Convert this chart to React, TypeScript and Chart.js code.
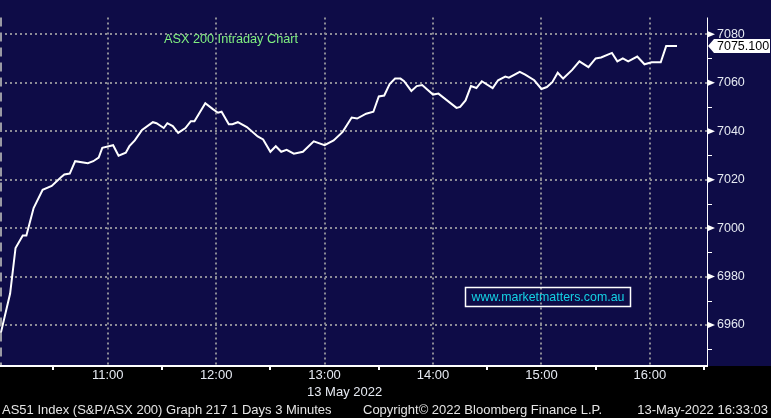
import React, { useEffect, useRef } from "react";
import { Chart, registerables } from "chart.js";

Chart.register(...registerables);

// ---- data ----
const times = [
  "10:00", "10:06", "10:09", "10:13", "10:15", "10:19", "10:24", "10:29", "10:34", "10:36",
  "10:39", "10:42", "10:49", "10:52", "10:55", "10:57", "11:03", "11:06", "11:10", "11:12",
  "11:15", "11:19", "11:25", "11:27", "11:31", "11:33", "11:36", "11:39", "11:43", "11:46",
  "11:48", "11:54", "11:58", "12:01", "12:03", "12:07", "12:09", "12:12", "12:17", "12:23",
  "12:26", "12:30", "12:33", "12:36", "12:39", "12:43", "12:48", "12:54", "13:00", "13:05",
  "13:10", "13:15", "13:18", "13:23", "13:27", "13:30", "13:33", "13:36", "13:39", "13:42",
  "13:44", "13:48", "13:51", "13:54", "14:00", "14:03", "14:13", "14:15", "14:18", "14:21",
  "14:24", "14:27", "14:33", "14:36", "14:40", "14:42", "14:48", "14:51", "14:56", "15:00",
  "15:03", "15:06", "15:09", "15:12", "15:17", "15:21", "15:26", "15:30", "15:33", "15:39",
  "15:42", "15:45", "15:48", "15:53", "15:57", "16:01", "16:06", "16:09", "16:15",
];

const values = [
  6954, 6973.0, 6991.8, 6996.9, 6996.9, 7008.3, 7015.8, 7017.4, 7020.9, 7022.1,
  7022.5, 7027.6, 7026.8, 7027.6, 7029.1, 7033.1, 7034.2, 7029.9, 7031.1, 7033.8,
  7036.2, 7040.5, 7043.7, 7043.3, 7041.3, 7043.3, 7042.1, 7039.3, 7041.3, 7044.1,
  7044.1, 7051.5, 7049.2, 7047.6, 7048.0, 7042.9, 7042.9, 7043.7, 7041.7, 7037.8,
  7036.6, 7031.5, 7033.8, 7031.5, 7032.3, 7030.7, 7031.5, 7035.8, 7034.2, 7036.2,
  7039.7, 7045.6, 7045.2, 7047.2, 7048.0, 7054.3, 7054.7, 7059.4, 7061.7, 7061.7,
  7060.6, 7056.6, 7058.6, 7059.0, 7055.1, 7055.5, 7049.6, 7050.0, 7052.7, 7058.6,
  7057.8, 7060.6, 7057.8, 7061.0, 7062.5, 7062.1, 7064.5, 7063.3, 7061.0, 7057.4,
  7058.2, 7060.2, 7064.1, 7061.7, 7065.3, 7068.8, 7066.4, 7070.0, 7070.4, 7072.3,
  7068.8, 7070.0, 7068.8, 7070.8, 7067.6, 7068.4, 7068.4, 7075.1, 7075.1,
];

const yTicks = [6960, 6980, 7000, 7020, 7040, 7060, 7080];
const yMinorTicks = [6950, 6970, 6990, 7010, 7030, 7050, 7070];
const xTickLabels = ["11:00", "12:00", "13:00", "14:00", "15:00", "16:00"];
const xMinorTicks = ["10:30", "11:30", "12:30", "13:30", "14:30", "15:30", "16:30"];
const lastPrice = 7075.1;
const lastPriceLabel = "7075.100";

const titleText = "ASX 200 Intraday Chart";
const watermarkText = "www.marketmatters.com.au";
const dateLabel = "13 May 2022";
const footerLeft = "AS51 Index (S&P/ASX 200) Graph 217 1 Days 3 Minutes";
const footerMid = "Copyright\u00A9 2022 Bloomberg Finance L.P.";
const footerRight = "13-May-2022 16:33:03";

const Y_MIN = 6943.1;
const Y_MAX = 7086.9;

// ---- helpers ----
const toMin = (t: string) => {
  const [h, m] = t.split(":").map(Number);
  return (h - 10) * 60 + m;
};
const fmt = (v: number) => {
  const h = 10 + Math.floor(v / 60);
  const m = Math.round(v % 60);
  return `${h}:${String(m).padStart(2, "0")}`;
};
const X_MIN = toMin("10:00") + 0.4;
const X_MAX = toMin("16:31") + 0.6;

const FONT = "'Liberation Sans', Arial, sans-serif";
const NAVY = "#0e0c47";
const GRID = "#8c8c96";
const LABEL = "#e6eaf2";

const bgPlugin = {
  id: "bg",
  beforeDraw(chart: any) {
    const { ctx, width, height, chartArea } = chart;
    ctx.save();
    ctx.fillStyle = "#000000";
    ctx.fillRect(0, 0, width, height);
    ctx.fillStyle = NAVY;
    ctx.fillRect(0, 0, width, chartArea.bottom);
    ctx.restore();
  },
};

const overlayPlugin = {
  id: "overlay",
  afterDraw(chart: any) {
    const { ctx, chartArea, width } = chart;
    const xs = chart.scales.x;
    const ys = chart.scales.y;
    const { left, right, top, bottom } = chartArea;
    ctx.save();

    // left dashed edge
    ctx.strokeStyle = "#9a9aa4";
    ctx.lineWidth = 2;
    ctx.setLineDash([9, 6]);
    ctx.beginPath();
    ctx.moveTo(left + 1, top);
    ctx.lineTo(left + 1, bottom);
    ctx.stroke();
    ctx.setLineDash([]);

    // axis lines
    ctx.fillStyle = "#ffffff";
    ctx.fillRect(left, bottom - 1, right - left + 1, 2);
    ctx.fillRect(right, top, 1, bottom - top + 1);

    // x minor ticks
    xMinorTicks.forEach((t) => {
      const x = Math.round(xs.getPixelForValue(toMin(t)));
      if (x < right) ctx.fillRect(x - 1, bottom, 2, 4);
    });

    // y minor ticks
    yMinorTicks.forEach((v) => {
      const y = Math.round(ys.getPixelForValue(v));
      if (y > top && y < bottom) ctx.fillRect(right + 1, y, 4, 1);
    });

    // y major tick triangles
    yTicks.forEach((v) => {
      const y = ys.getPixelForValue(v);
      ctx.beginPath();
      ctx.moveTo(right + 1, y - 3);
      ctx.lineTo(right + 8, y);
      ctx.lineTo(right + 1, y + 3);
      ctx.closePath();
      ctx.fill();
    });

    // last price tag
    const py = ys.getPixelForValue(lastPrice);
    ctx.fillStyle = "#ffffff";
    ctx.beginPath();
    ctx.moveTo(right + 1, py);
    ctx.lineTo(right + 7, py - 7);
    ctx.lineTo(width - 1, py - 7);
    ctx.lineTo(width - 1, py + 7);
    ctx.lineTo(right + 7, py + 7);
    ctx.closePath();
    ctx.fill();
    ctx.fillStyle = "#000000";
    ctx.font = `12.5px ${FONT}`;
    ctx.textAlign = "left";
    ctx.textBaseline = "middle";
    ctx.fillText(lastPriceLabel, right + 10, py + 0.5);

    // title
    ctx.fillStyle = "#80f080";
    ctx.font = `12.7px ${FONT}`;
    ctx.fillText(titleText, 164, 39.5);

    // watermark
    ctx.strokeStyle = "#ffffff";
    ctx.lineWidth = 1.5;
    ctx.strokeRect(465.5, 287.5, 165, 19);
    ctx.fillStyle = "#14d2e4";
    ctx.font = `12.4px ${FONT}`;
    ctx.textAlign = "center";
    ctx.fillText(watermarkText, 548, 297.5);

    // date label
    ctx.fillStyle = LABEL;
    ctx.font = `13px ${FONT}`;
    ctx.textAlign = "left";
    ctx.fillText(dateLabel, 307, 392.5);

    // footer
    ctx.fillStyle = "#e4e4e4";
    ctx.font = `13px ${FONT}`;
    ctx.textAlign = "left";
    ctx.fillText(footerLeft, 2, 410);
    ctx.fillText(footerMid, 363, 410);
    ctx.textAlign = "right";
    ctx.fillText(footerRight, 768, 410);

    ctx.restore();
  },
};

export default function App() {
  const ref = useRef<HTMLCanvasElement | null>(null);

  useEffect(() => {
    document.body.style.margin = "0";
    document.body.style.background = "#000";
    const canvas = ref.current;
    if (!canvas) return;
    const chart = new Chart(canvas, {
      type: "line",
      data: {
        datasets: [
          {
            data: times.map((t, i) => ({ x: toMin(t), y: values[i] })),
            borderColor: "#ffffff",
            borderWidth: 2,
            pointRadius: 0,
            tension: 0,
            fill: false,
          },
        ],
      },
      options: {
        animation: false,
        responsive: false,
        maintainAspectRatio: false,
        events: [],
        layout: { padding: 0, autoPadding: false },
        plugins: { legend: { display: false }, tooltip: { enabled: false } },
        scales: {
          x: {
            type: "linear",
            position: "bottom",
            min: X_MIN,
            max: X_MAX,
            afterBuildTicks: (s: any) => {
              s.ticks = xTickLabels.map((l) => ({ value: toMin(l) }));
            },
            afterFit: (s: any) => {
              s.height = 52;
            },
            grid: { color: GRID, lineWidth: 2, drawTicks: false },
            border: { display: false, dash: [2, 3] },
            ticks: {
              color: LABEL,
              font: { family: FONT, size: 13 },
              padding: 2,
              maxRotation: 0,
              autoSkip: false,
              callback: (v: any) => fmt(Number(v)),
            },
          },
          y: {
            type: "linear",
            position: "right",
            min: Y_MIN,
            max: Y_MAX,
            afterBuildTicks: (s: any) => {
              s.ticks = yTicks.map((v) => ({ value: v }));
            },
            afterFit: (s: any) => {
              s.width = 64;
            },
            grid: { color: GRID, lineWidth: 2, drawTicks: false },
            border: { display: false, dash: [2, 3] },
            ticks: {
              color: LABEL,
              font: { family: FONT, size: 12.5 },
              padding: 10,
              autoSkip: false,
              callback: (v: any) => String(v),
            },
          },
        },
      },
      plugins: [bgPlugin, overlayPlugin],
    } as any);
    return () => chart.destroy();
  }, []);

  return (
    <div style={{ width: 771, height: 418, background: "#000" }}>
      <canvas ref={ref} width={771} height={418} style={{ display: "block", width: 771, height: 418 }} />
    </div>
  );
}
